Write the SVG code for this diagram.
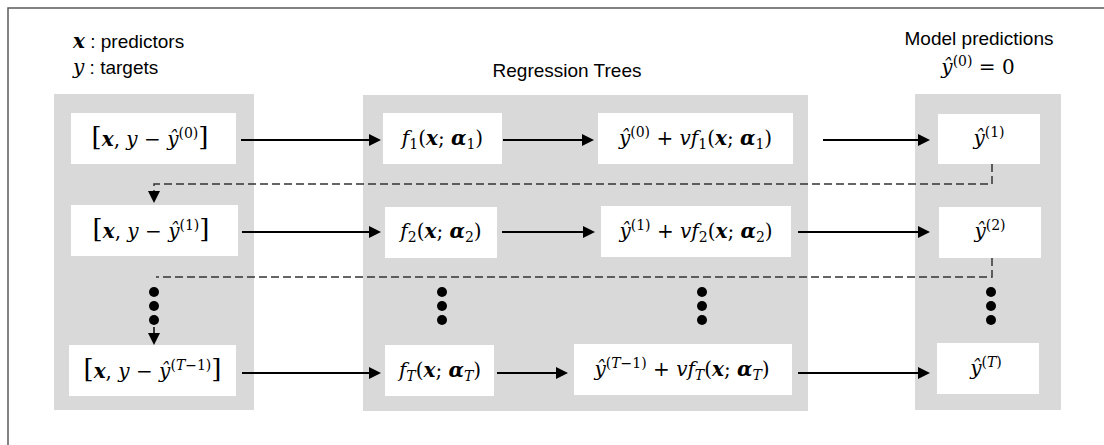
<svg xmlns="http://www.w3.org/2000/svg" width="1104" height="445" viewBox="0 0 1104 445">
<style>
.panel{fill:#d9d9d9}
.box{fill:#fff}
.sans{font-family:"Liberation Sans",Arial,sans-serif;font-size:19px;fill:#000}
.m{font-family:"DejaVu Serif","Liberation Serif",serif;font-size:20px;fill:#000}
.i{font-style:italic}
.b{font-style:italic;font-weight:bold}
.s{font-size:14px}
.br{font-size:26px}
.arrow{stroke:#000;stroke-width:2.2;fill:none;marker-end:url(#ah)}
.dash{stroke:#333;stroke-width:1.5;fill:none;stroke-dasharray:8 4}
.dot{fill:#000}
</style>
<defs>
<marker id="ah" markerWidth="12" markerHeight="12" refX="10" refY="6" orient="auto" markerUnits="userSpaceOnUse">
<path d="M0,0 L12,6 L0,12 z" fill="#000"/>
</marker>
<marker id="ahd" markerWidth="12" markerHeight="12" refX="10" refY="6" orient="auto" markerUnits="userSpaceOnUse">
<path d="M0,0 L12,6 L0,12 z" fill="#000"/>
</marker>
</defs>
<rect width="1104" height="445" fill="#fff"/>
<path d="M8,445 V8 H1104" fill="none" stroke="#595959" stroke-width="1.5"/>

<g id="legend">
<text class="sans" x="73" y="48"><tspan class="m b">x</tspan> : predictors</text>
<text class="sans" x="73" y="74"><tspan class="m i">y</tspan> : targets</text>
</g>
<g id="title-trees"><text class="sans" x="567" y="77" text-anchor="middle" font-size="18">Regression Trees</text></g>
<g id="title-pred">
<text class="sans" x="979" y="45" text-anchor="middle">Model predictions</text>
<text class="m" x="978" y="74" text-anchor="middle"><tspan class="i">ŷ</tspan><tspan class="s" dy="-8">(0)</tspan><tspan dy="8"> = 0</tspan></text>
</g>

<g id="panels">
<rect class="panel" x="54" y="94" width="200" height="316"/>
<rect class="panel" x="363" y="95" width="445" height="316"/>
<rect class="panel" x="915" y="94" width="146" height="316"/>
</g>

<g id="in1"><rect class="box" x="71" y="113" width="165" height="51"/>
<text class="m" x="150" y="146" text-anchor="middle"><tspan class="br">[</tspan><tspan class="b">x</tspan>, <tspan class="i">y</tspan> −  <tspan class="i">ŷ</tspan><tspan class="s" dy="-8">(0)</tspan><tspan class="br" dy="8">]</tspan></text></g>
<g id="in2"><rect class="box" x="71" y="205" width="167" height="51"/>
<text class="m" x="151" y="238" text-anchor="middle"><tspan class="br">[</tspan><tspan class="b">x</tspan>, <tspan class="i">y</tspan> −  <tspan class="i">ŷ</tspan><tspan class="s" dy="-8">(1)</tspan><tspan class="br" dy="8">]</tspan></text></g>
<g id="in3"><rect class="box" x="69" y="345" width="167" height="51"/>
<text class="m" x="152.5" y="378" text-anchor="middle"><tspan class="br">[</tspan><tspan class="b">x</tspan>, <tspan class="i">y</tspan> −  <tspan class="i">ŷ</tspan><tspan class="s" dy="-8">(<tspan class="i">T</tspan>−1)</tspan><tspan class="br" dy="8">]</tspan></text></g>

<g id="f1"><rect class="box" x="383" y="113" width="119" height="51"/>
<text class="m" x="442.5" y="145" text-anchor="middle"><tspan class="i">f</tspan><tspan class="s" dy="4">1</tspan><tspan dy="-4">(</tspan><tspan class="b">x</tspan>; <tspan class="b">α</tspan><tspan class="s" dy="4">1</tspan><tspan dy="-4">)</tspan></text></g>
<g id="f2"><rect class="box" x="385" y="207" width="112" height="51"/>
<text class="m" x="441" y="238" text-anchor="middle"><tspan class="i">f</tspan><tspan class="s" dy="4">2</tspan><tspan dy="-4">(</tspan><tspan class="b">x</tspan>; <tspan class="b">α</tspan><tspan class="s" dy="4">2</tspan><tspan dy="-4">)</tspan></text></g>
<g id="fT"><rect class="box" x="385" y="345" width="109" height="51"/>
<text class="m" x="440" y="377" text-anchor="middle"><tspan class="i">f</tspan><tspan class="s i" dy="4">T</tspan><tspan dy="-4">(</tspan><tspan class="b">x</tspan>; <tspan class="b">α</tspan><tspan class="s i" dy="4">T</tspan><tspan dy="-4">)</tspan></text></g>

<g id="u1"><rect class="box" x="598" y="113" width="195" height="51"/>
<text class="m" x="695.5" y="145" text-anchor="middle"><tspan class="i">ŷ</tspan><tspan class="s" dy="-8">(0)</tspan><tspan dy="8"> + </tspan><tspan class="i">vf</tspan><tspan class="s" dy="4">1</tspan><tspan dy="-4">(</tspan><tspan class="b">x</tspan>; <tspan class="b">α</tspan><tspan class="s" dy="4">1</tspan><tspan dy="-4">)</tspan></text></g>
<g id="u2"><rect class="box" x="601" y="206" width="190" height="51"/>
<text class="m" x="696" y="238" text-anchor="middle"><tspan class="i">ŷ</tspan><tspan class="s" dy="-8">(1)</tspan><tspan dy="8"> + </tspan><tspan class="i">vf</tspan><tspan class="s" dy="4">2</tspan><tspan dy="-4">(</tspan><tspan class="b">x</tspan>; <tspan class="b">α</tspan><tspan class="s" dy="4">2</tspan><tspan dy="-4">)</tspan></text></g>
<g id="uT"><rect class="box" x="574" y="344" width="218" height="51"/>
<text class="m" x="682" y="376" text-anchor="middle"><tspan class="i">ŷ</tspan><tspan class="s" dy="-8">(<tspan class="i">T</tspan>−1)</tspan><tspan dy="8"> + </tspan><tspan class="i">vf</tspan><tspan class="s i" dy="4">T</tspan><tspan dy="-4">(</tspan><tspan class="b">x</tspan>; <tspan class="b">α</tspan><tspan class="s i" dy="4">T</tspan><tspan dy="-4">)</tspan></text></g>

<g id="p1"><rect class="box" x="938" y="114" width="102" height="50"/>
<text class="m" x="989" y="145" text-anchor="middle"><tspan class="i">ŷ</tspan><tspan class="s" dy="-8">(1)</tspan></text></g>
<g id="p2"><rect class="box" x="939" y="207" width="102" height="51"/>
<text class="m" x="990" y="238" text-anchor="middle"><tspan class="i">ŷ</tspan><tspan class="s" dy="-8">(2)</tspan></text></g>
<g id="pT"><rect class="box" x="937" y="343" width="102" height="51"/>
<text class="m" x="986" y="375" text-anchor="middle"><tspan class="i">ŷ</tspan><tspan class="s" dy="-8">(<tspan class="i">T</tspan>)</tspan></text></g>

<g id="ellipses">
<circle class="dot" cx="154" cy="292" r="5"/><circle class="dot" cx="154" cy="306" r="5"/><circle class="dot" cx="154" cy="320" r="5"/>
<circle class="dot" cx="442" cy="292" r="5"/><circle class="dot" cx="442" cy="306" r="5"/><circle class="dot" cx="442" cy="320" r="5"/>
<circle class="dot" cx="702" cy="292" r="5"/><circle class="dot" cx="702" cy="306" r="5"/><circle class="dot" cx="702" cy="320" r="5"/>
<circle class="dot" cx="991" cy="292" r="5"/><circle class="dot" cx="991" cy="306" r="5"/><circle class="dot" cx="991" cy="320" r="5"/>
</g>

<g id="connectors">
<line class="arrow" x1="241" y1="140" x2="379" y2="140"/>
<line class="arrow" x1="503" y1="140" x2="592" y2="140"/>
<line class="arrow" x1="823" y1="140" x2="928" y2="140"/>
<line class="arrow" x1="242" y1="232" x2="379" y2="232"/>
<line class="arrow" x1="502" y1="232" x2="593" y2="232"/>
<line class="arrow" x1="798" y1="232" x2="928" y2="232"/>
<line class="arrow" x1="242" y1="373" x2="379" y2="373"/>
<line class="arrow" x1="497" y1="373" x2="566" y2="373"/>
<line class="arrow" x1="798" y1="373" x2="928" y2="373"/>
<path class="dash" d="M992,164 V184 H154 V201" marker-end="url(#ahd)"/>
<path class="dash" d="M992,258 V277 H156"/>
<line x1="154" y1="327" x2="154" y2="343" stroke="#000" stroke-width="1.5" marker-end="url(#ahd)"/>
</g>
</svg>
